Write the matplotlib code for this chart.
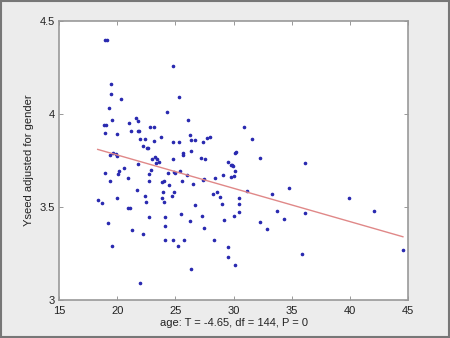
import numpy as np
import matplotlib
matplotlib.use("Agg")
import matplotlib.pyplot as plt
from matplotlib.patches import Rectangle

# -------------------------------------------------------------------------
# DATA
# -------------------------------------------------------------------------
age = [
    18.96, 19.13, 24.83, 19.50, 19.44, 20.33, 25.34, 19.33, 24.31, 19.58,
    21.62, 21.82, 21.02, 18.90, 19.04, 22.85, 23.14, 21.16, 21.82, 21.90,
    18.96, 19.96, 23.80, 21.96, 22.42, 23.19, 24.77, 25.30, 22.25, 22.68,
    22.60, 19.67, 19.90, 19.39, 20.00, 23.25, 23.02, 23.43, 25.70, 24.78,
    23.34, 23.57, 21.76, 20.62, 22.94, 18.96, 20.12, 20.10, 24.40, 24.89,
    24.97, 25.43, 22.74, 20.96, 19.41, 22.71, 23.88, 24.03, 25.60, 24.48,
    21.73, 23.90, 24.90, 22.42, 19.96, 23.88, 18.33, 24.68, 22.50, 24.03,
    18.67, 20.90, 21.10, 25.49, 22.71, 24.08, 19.24, 24.11, 21.30, 22.25,
    24.14, 24.77, 25.77, 25.20, 19.58, 21.96, 26.07, 30.93, 26.23, 26.32,
    26.66, 31.62, 27.40, 27.75, 27.98, 25.63, 26.35, 27.20, 27.57, 30.13,
    30.22, 32.25, 36.15, 29.50, 29.76, 29.90, 29.98, 30.16, 25.97, 29.07,
    28.44, 29.76, 30.05, 27.43, 27.35, 26.55, 33.28, 34.77, 31.13, 28.21,
    28.55, 28.84, 30.50, 29.00, 30.48, 26.72, 33.71, 36.15, 30.45, 27.30,
    30.05, 34.37, 26.29, 29.16, 32.25, 27.49, 32.85, 28.33, 29.56, 29.56,
    35.90, 26.35, 30.13, 39.90, 42.05, 44.55,
]
yseed = [
    4.40, 4.40, 4.26, 4.16, 4.11, 4.08, 4.09, 4.03, 4.01, 3.97,
    3.98, 3.96, 3.95, 3.94, 3.94, 3.93, 3.93, 3.91, 3.91, 3.91,
    3.90, 3.89, 3.875, 3.864, 3.864, 3.857, 3.85, 3.85, 3.83, 3.82,
    3.815, 3.79, 3.785, 3.78, 3.774, 3.77, 3.758, 3.758, 3.778, 3.758,
    3.735, 3.74, 3.73, 3.71, 3.70, 3.684, 3.695, 3.677, 3.684, 3.688,
    3.683, 3.694, 3.677, 3.654, 3.641, 3.638, 3.633, 3.638, 3.64, 3.617,
    3.59, 3.582, 3.582, 3.56, 3.547, 3.548, 3.538, 3.557, 3.525, 3.525,
    3.52, 3.495, 3.493, 3.462, 3.445, 3.445, 3.414, 3.40, 3.375, 3.353,
    3.324, 3.323, 3.321, 3.29, 3.29, 3.09, 3.969, 3.93, 3.889, 3.86,
    3.86, 3.864, 3.85, 3.87, 3.875, 3.789, 3.80, 3.763, 3.758, 3.789,
    3.794, 3.762, 3.735, 3.742, 3.726, 3.726, 3.72, 3.694, 3.674, 3.674,
    3.657, 3.663, 3.668, 3.65, 3.645, 3.625, 3.57, 3.604, 3.586, 3.57,
    3.579, 3.556, 3.55, 3.518, 3.518, 3.51, 3.478, 3.469, 3.473, 3.45,
    3.45, 3.434, 3.426, 3.428, 3.42, 3.39, 3.383, 3.323, 3.287, 3.233,
    3.249, 3.17, 3.187, 3.547, 3.48, 3.267,
]

# regression line as drawn in the reference
fit_slope = -0.0179
fit_intercept = 4.138

x_ticks = [15, 20, 25, 30, 35, 40, 45]
y_ticks = [3, 3.5, 4, 4.5]

# -------------------------------------------------------------------------
# PLOT
# -------------------------------------------------------------------------
plt.rcParams["font.family"] = ["Liberation Sans", "DejaVu Sans"]
plt.rcParams["font.size"] = 8

fig = plt.figure(figsize=(4.5, 3.38), dpi=100, facecolor="#ececec")
ax = fig.add_axes([0.131, 0.112, 0.776, 0.826])
ax.set_facecolor("white")

ax.plot(age, yseed, ".", color="#2a2ab0", markersize=3.2)

xl = np.array([min(age), max(age)])
ax.plot(xl, fit_intercept + fit_slope * xl, color="#e08888", linewidth=1.0)

ax.set_xlim(15, 45)
ax.set_ylim(3, 4.5)
ax.set_xticks(x_ticks)
ax.set_yticks(y_ticks)
ax.set_yticklabels(["3", "3.5", "4", "4.5"])
ax.tick_params(direction="in", length=3, width=0.6, colors="#888888",
               labelcolor="#222222", top=True, right=True)
ax.tick_params(axis="x", pad=4.5)
ax.tick_params(axis="y", pad=3)
for s in ax.spines.values():
    s.set_color("#999999")
    s.set_linewidth(1.2)

ax.set_xlabel("age: T = -4.65, df = 144, P = 0", color="#222222", labelpad=1)
ax.set_ylabel("Yseed adjusted for gender", color="#222222", labelpad=4)

# outer frame around the picture
fig.patches.append(Rectangle((0.002, 0.003), 0.996, 0.994, transform=fig.transFigure,
                             fill=False, edgecolor="#777777", linewidth=1.5))

fig.savefig("out.png", dpi=100, facecolor=fig.get_facecolor())
